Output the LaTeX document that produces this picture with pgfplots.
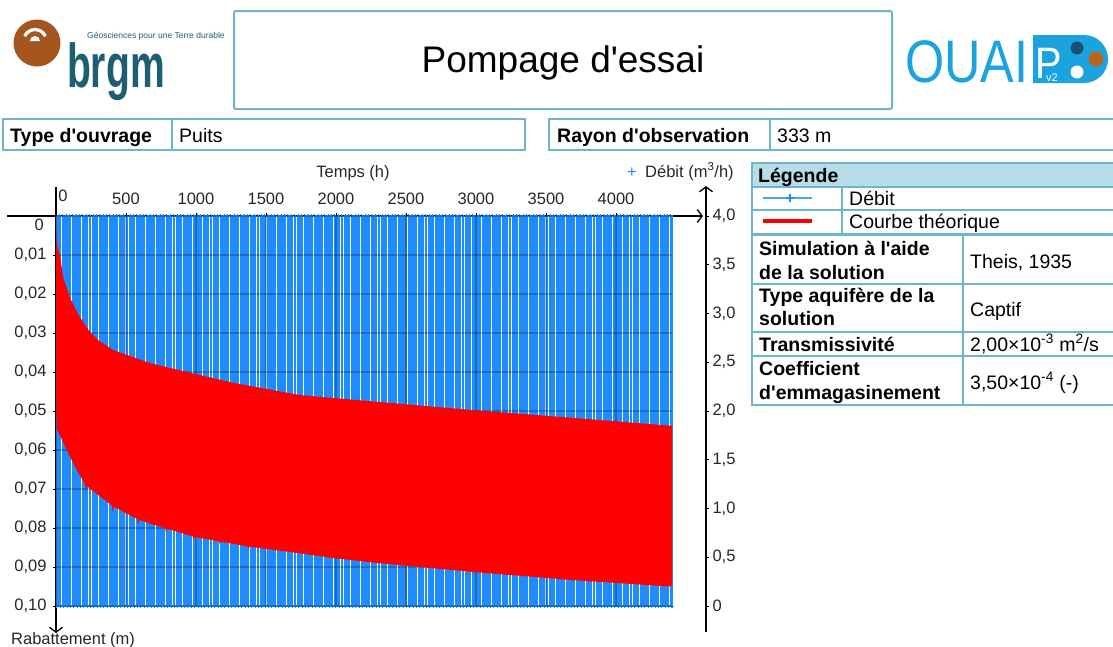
\documentclass[border=0pt]{standalone}
\usepackage{pgfplots}
\pgfplotsset{compat=1.18}
\usepackage{fontspec}
\setmainfont{Liberation Sans}
\usetikzlibrary{arrows.meta}
\definecolor{bc}{RGB}{110,180,205}
\definecolor{hdr}{RGB}{183,221,232}
\definecolor{blueD}{RGB}{30,140,252}
\definecolor{brgmteal}{RGB}{29,94,115}
\definecolor{brgmbrown}{RGB}{165,86,31}
\definecolor{ouaip}{RGB}{27,163,224}
\definecolor{dropdark}{RGB}{25,80,115}
\definecolor{dropbrown}{RGB}{184,101,30}
\newcommand{\fA}{\fontsize{19.5}{23}\selectfont}
\newcommand{\fT}{\fontsize{16.5}{19}\selectfont}
\newcommand{\q}{\textquotesingle}
\begin{document}
\begin{tikzpicture}[x=1pt,y=-1pt]
\useasboundingbox (0,0) rectangle (1113,646);

% ---------- header: brgm logo ----------
\fill[brgmbrown] (37,43) circle (23.5);
\draw[white, line width=3.2pt] ([shift={(205:11.5)}]35,41) arc[start angle=205, end angle=335, radius=11.5];
\fill[white] (30,41) arc[start angle=180, end angle=360, radius=5] -- cycle;
\node[anchor=base west, inner sep=0, text=brgmteal, xscale=0.63, font=\fontsize{62}{62}\selectfont\bfseries] at (67,87) {brgm};
\node[anchor=base west, inner sep=0, text=brgmteal, font=\fontsize{8.5}{9}\selectfont] at (87,38) {Géosciences pour une Terre durable};

% ---------- title box ----------
\draw[bc, line width=2pt, rounded corners=2pt] (234,11) rectangle (892,109);
\node[anchor=base, inner sep=0, font=\fontsize{37}{40}\selectfont] at (563,72) {Pompage d\q essai};

% ---------- OUAIP logo ----------
\node[anchor=base west, inner sep=0, text=ouaip, xscale=0.84, font=\fontsize{60}{60}\selectfont] at (905,82) {OUAI};
\fill[ouaip] (1033,35) -- (1084,35) arc[start angle=-90, end angle=90, radius=24] -- (1033,83) -- cycle;
\node[anchor=base west, inner sep=0, text=white, xscale=0.9, font=\fontsize{44}{44}\selectfont] at (1035,78) {P};
\node[anchor=base west, inner sep=0, text=white, font=\fontsize{11}{11}\selectfont] at (1046,81) {v2};
\fill[dropdark] (1077,48) circle (6.5);
\fill[dropbrown] (1096,59) circle (7.5);
\fill[white] (1077,72) circle (6.5);

% ---------- info boxes ----------
\draw[bc, line width=2pt] (3,119) rectangle (525,150);
\draw[bc, line width=2pt] (172,119) -- (172,150);
\draw[bc, line width=2pt] (549,119) rectangle (1125,150);
\draw[bc, line width=2pt] (770,119) -- (770,150);
\node[anchor=base west, inner sep=0, font=\fA\bfseries] at (10,142) {Type d\q ouvrage};
\node[anchor=base west, inner sep=0, font=\fA] at (179,142) {Puits};
\node[anchor=base west, inner sep=0, font=\fA\bfseries] at (557,142) {Rayon d\q observation};
\node[anchor=base west, inner sep=0, font=\fA] at (777,142) {333 m};

% ---------- legend table ----------
\fill[hdr] (752,163) rectangle (1125,187);
\draw[bc, line width=1.8pt] (752,163) rectangle (1125,405);
\foreach \yy in {187,210,284,332,356} \draw[bc, line width=1.8pt] (752,\yy) -- (1125,\yy);
\draw[bc, line width=3pt] (752,234) -- (1125,234);
\draw[bc, line width=1.8pt] (842,187) -- (842,234);
\draw[bc, line width=1.8pt] (963,234) -- (963,405);
\node[anchor=base west, inner sep=0, font=\fA\bfseries] at (758,182) {Légende};
\draw[blueD!80!white, line width=1.5pt] (763,198) -- (812,198);
\draw[blueD, line width=1.2pt] (786,198) -- (794,198) (790,194) -- (790,202);
\node[anchor=base west, inner sep=0, font=\fA] at (849,205) {Débit};
\draw[red, line width=4pt] (763,221) -- (812,221);
\node[anchor=base west, inner sep=0, font=\fA] at (849,228) {Courbe théorique};
\node[anchor=base west, inner sep=0, font=\fA\bfseries] at (759,255) {Simulation à l\q aide};
\node[anchor=base west, inner sep=0, font=\fA\bfseries] at (759,279) {de la solution};
\node[anchor=base west, inner sep=0, font=\fA] at (970,268) {Theis, 1935};
\node[anchor=base west, inner sep=0, font=\fA\bfseries] at (759,302) {Type aquifère de la};
\node[anchor=base west, inner sep=0, font=\fA\bfseries] at (759,325) {solution};
\node[anchor=base west, inner sep=0, font=\fA] at (970,316) {Captif};
\node[anchor=base west, inner sep=0, font=\fA\bfseries] at (759,351) {Transmissivité};
\node[anchor=base west, inner sep=0, font=\fA] at (970,351) {2,00×10\textsuperscript{-3} m\textsuperscript{2}/s};
\node[anchor=base west, inner sep=0, font=\fA\bfseries] at (759,375) {Coefficient};
\node[anchor=base west, inner sep=0, font=\fA\bfseries] at (759,399) {d\q emmagasinement};
\node[anchor=base west, inner sep=0, font=\fA] at (970,389) {3,50×10\textsuperscript{-4} (-)};

% ---------- axis lines (under the data) ----------
\draw[line width=1.3pt, -{Straight Barb[length=5pt,width=13pt,line width=1.3pt]}] (7,216) -- (703,216);
\draw[line width=1.3pt, -{Straight Barb[length=5pt,width=13pt,line width=1.3pt]}] (56,187) -- (56,633);
\draw[line width=1.3pt, -{Straight Barb[length=5pt,width=13pt,line width=1.3pt]}] (706,632) -- (706,186);

% ---------- axis titles ----------
\node[anchor=base, inner sep=0, font=\fT, text=black!85] at (353,177) {Temps (h)};
\node[anchor=base, inner sep=0, font=\fT, text=blueD] at (632,177) {+};
\node[anchor=base west, inner sep=0, font=\fT, text=black!85] at (645,177) {Débit (m\textsuperscript{3}/h)};
\node[anchor=base west, inner sep=0, font=\fT, text=black!85] at (11,644) {Rabattement (m)};
\node[anchor=base east, inner sep=0, font=\fT, text=black!85] at (44,230) {0};
\node[anchor=base, inner sep=0, font=\fT, text=black!85] at (63,201) {0};

% ---------- right axis: Débit ----------
\begin{axis}[
  at={(56pt,-606pt)}, anchor=south west,
  scale only axis, width=650pt, height=390pt,
  xmin=0, xmax=4642.857, ymin=0, ymax=4,
  axis x line=none, axis y line*=right, axis line style={draw=none},
  ytick={0,0.5,1,1.5,2,2.5,3,3.5,4},
  yticklabels={0,{0,5},{1,0},{1,5},{2,0},{2,5},{3,0},{3,5},{4,0}},
  tick align=outside, major tick length=3pt,
  tick style={black, line width=0.9pt},
  ticklabel style={font=\fT, text=black!85},
  /pgf/number format/assume math mode=true,
  clip=false,
]
\addplot[const plot, draw=blueD, line width=2.1pt, mark=+, mark size=2.2pt,
  mark options={solid, line width=0.8pt, draw=blueD}] coordinates {
(0,4)(6,0)(24,4)(30,0)(48,4)(54,0)(72,4)(78,0)(96,4)(102,0)(120,4)(126,0)(144,4)(150,0)(168,4)(174,0)(192,4)(198,0)(216,4)(222,0)
(240,4)(246,0)(264,4)(270,0)(288,4)(294,0)(312,4)(318,0)(336,4)(342,0)(360,4)(366,0)(384,4)(390,0)(408,4)(414,0)(432,4)(438,0)(456,4)(462,0)
(480,4)(486,0)(504,4)(510,0)(528,4)(534,0)(552,4)(558,0)(576,4)(582,0)(600,4)(606,0)(624,4)(630,0)(648,4)(654,0)(672,4)(678,0)(696,4)(702,0)
(720,4)(726,0)(744,4)(750,0)(768,4)(774,0)(792,4)(798,0)(816,4)(822,0)(840,4)(846,0)(864,4)(870,0)(888,4)(894,0)(912,4)(918,0)(936,4)(942,0)
(960,4)(966,0)(984,4)(990,0)(1008,4)(1014,0)(1032,4)(1038,0)(1056,4)(1062,0)(1080,4)(1086,0)(1104,4)(1110,0)(1128,4)(1134,0)(1152,4)(1158,0)(1176,4)(1182,0)
(1200,4)(1206,0)(1224,4)(1230,0)(1248,4)(1254,0)(1272,4)(1278,0)(1296,4)(1302,0)(1320,4)(1326,0)(1344,4)(1350,0)(1368,4)(1374,0)(1392,4)(1398,0)(1416,4)(1422,0)
(1440,4)(1446,0)(1464,4)(1470,0)(1488,4)(1494,0)(1512,4)(1518,0)(1536,4)(1542,0)(1560,4)(1566,0)(1584,4)(1590,0)(1608,4)(1614,0)(1632,4)(1638,0)(1656,4)(1662,0)
(1680,4)(1686,0)(1704,4)(1710,0)(1728,4)(1734,0)(1752,4)(1758,0)(1776,4)(1782,0)(1800,4)(1806,0)(1824,4)(1830,0)(1848,4)(1854,0)(1872,4)(1878,0)(1896,4)(1902,0)
(1920,4)(1926,0)(1944,4)(1950,0)(1968,4)(1974,0)(1992,4)(1998,0)(2016,4)(2022,0)(2040,4)(2046,0)(2064,4)(2070,0)(2088,4)(2094,0)(2112,4)(2118,0)(2136,4)(2142,0)
(2160,4)(2166,0)(2184,4)(2190,0)(2208,4)(2214,0)(2232,4)(2238,0)(2256,4)(2262,0)(2280,4)(2286,0)(2304,4)(2310,0)(2328,4)(2334,0)(2352,4)(2358,0)(2376,4)(2382,0)
(2400,4)(2406,0)(2424,4)(2430,0)(2448,4)(2454,0)(2472,4)(2478,0)(2496,4)(2502,0)(2520,4)(2526,0)(2544,4)(2550,0)(2568,4)(2574,0)(2592,4)(2598,0)(2616,4)(2622,0)
(2640,4)(2646,0)(2664,4)(2670,0)(2688,4)(2694,0)(2712,4)(2718,0)(2736,4)(2742,0)(2760,4)(2766,0)(2784,4)(2790,0)(2808,4)(2814,0)(2832,4)(2838,0)(2856,4)(2862,0)
(2880,4)(2886,0)(2904,4)(2910,0)(2928,4)(2934,0)(2952,4)(2958,0)(2976,4)(2982,0)(3000,4)(3006,0)(3024,4)(3030,0)(3048,4)(3054,0)(3072,4)(3078,0)(3096,4)(3102,0)
(3120,4)(3126,0)(3144,4)(3150,0)(3168,4)(3174,0)(3192,4)(3198,0)(3216,4)(3222,0)(3240,4)(3246,0)(3264,4)(3270,0)(3288,4)(3294,0)(3312,4)(3318,0)(3336,4)(3342,0)
(3360,4)(3366,0)(3384,4)(3390,0)(3408,4)(3414,0)(3432,4)(3438,0)(3456,4)(3462,0)(3480,4)(3486,0)(3504,4)(3510,0)(3528,4)(3534,0)(3552,4)(3558,0)(3576,4)(3582,0)
(3600,4)(3606,0)(3624,4)(3630,0)(3648,4)(3654,0)(3672,4)(3678,0)(3696,4)(3702,0)(3720,4)(3726,0)(3744,4)(3750,0)(3768,4)(3774,0)(3792,4)(3798,0)(3816,4)(3822,0)
(3840,4)(3846,0)(3864,4)(3870,0)(3888,4)(3894,0)(3912,4)(3918,0)(3936,4)(3942,0)(3960,4)(3966,0)(3984,4)(3990,0)(4008,4)(4014,0)(4032,4)(4038,0)(4056,4)(4062,0)
(4080,4)(4086,0)(4104,4)(4110,0)(4128,4)(4134,0)(4152,4)(4158,0)(4176,4)(4182,0)(4200,4)(4206,0)(4224,4)(4230,0)(4248,4)(4254,0)(4272,4)(4278,0)(4296,4)(4302,0)
(4320,4)(4326,0)(4344,4)(4350,0)(4368,4)(4374,0)(4392,4)(4398,0)(4400,0)
};
\end{axis}

% ---------- left axis: Rabattement ----------
\begin{axis}[
  at={(56pt,-606pt)}, anchor=south west,
  scale only axis, width=616pt, height=390pt,
  xmin=0, xmax=4400, ymin=0, ymax=0.1, y dir=reverse,
  axis x line*=top, axis y line*=left, axis line style={draw=none},
  xtick={0,500,1000,1500,2000,2500,3000,3500,4000},
  xticklabels={,500,1000,1500,2000,2500,3000,3500,4000},
  ytick={0,0.01,0.02,0.03,0.04,0.05,0.06,0.07,0.08,0.09,0.1},
  yticklabels={,{0,01},{0,02},{0,03},{0,04},{0,05},{0,06},{0,07},{0,08},{0,09},{0,10}},
  tick align=outside, major tick length=3pt,
  tick style={black, line width=0.9pt},
  ticklabel style={font=\fT, text=black!85},
  xticklabel shift=5pt, yticklabel shift=3pt,
  /pgf/number format/assume math mode=true,
  grid=major, major grid style={draw=black, opacity=0.22, line width=1.2pt},
  clip=false,
]
\addplot[draw=none, fill=red] coordinates {
(0,0)(2,0.005)(10,0.008)(28,0.010)(50,0.0156)(100,0.0210)(160,0.0253)(231,0.0292)(300,0.0318)(410,0.0344)
(670,0.0377)(935,0.0400)(1270,0.0428)(1740,0.0459)(2314,0.0477)(2957,0.0497)(3671,0.0517)(4400,0.0538)
(4400,0.0947)(4386,0.0950)(3671,0.0933)(2957,0.0912)(2300,0.0890)(1980,0.0877)(1743,0.0865)
(1382,0.0848)(1374,0.0854)(1368,0.0847)(1179,0.0835)(1171,0.0843)(1165,0.0834)
(989,0.0823)(981,0.0832)(975,0.0821)(880,0.0811)(794,0.0802)(786,0.0812)(780,0.0800)
(680,0.0790)(596,0.0779)(588,0.0792)(582,0.0777)(500,0.0762)(413,0.0745)(405,0.0762)(400,0.0742)
(300,0.0715)(222,0.0693)(214,0.0704)(208,0.0688)(148,0.0651)(76,0.0600)(5,0.0544)(0,0.044)
};
\end{axis}
\end{tikzpicture}
\end{document}
